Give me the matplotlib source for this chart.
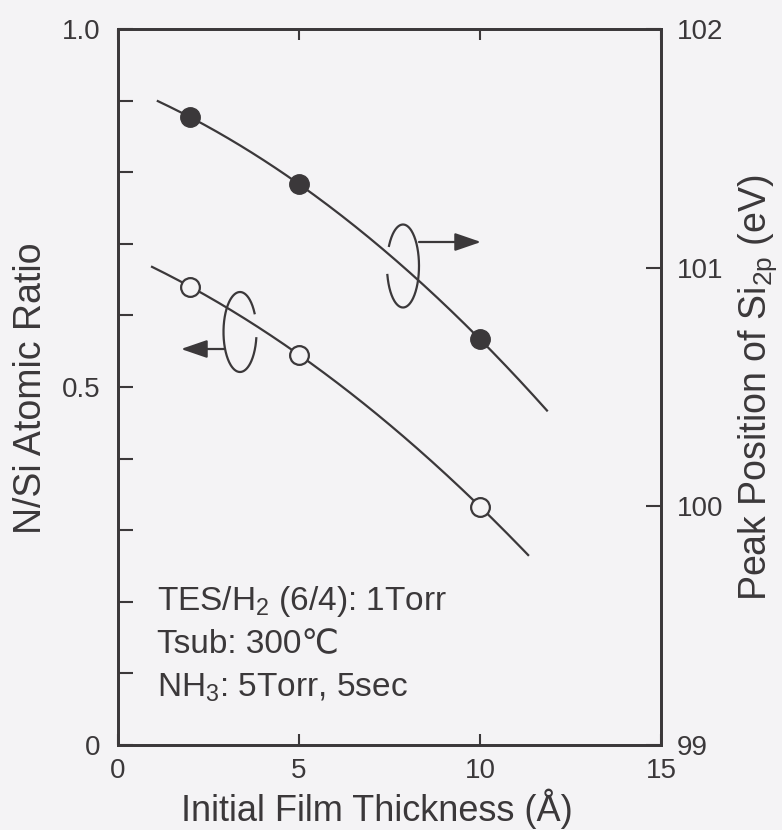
import numpy as np
import matplotlib
matplotlib.use("Agg")
import matplotlib.pyplot as plt
from matplotlib.ticker import FixedLocator, FixedFormatter

# ---- data -------------------------------------------------------------
thickness = [2.0, 5.0, 10.0]                 # initial film thickness (Å)
n_si_ratio = [0.64, 0.545, 0.333]            # N/Si atomic ratio (left axis)
si2p_peak = [101.63, 101.35, 100.70]         # Si2p peak position, eV (right axis)

ratio_fit_span = [0.94, 11.33]               # x extent of the guide curve (ratio)
peak_fit_span = [1.10, 11.85]                # x extent of the guide curve (peak)

x_ticks = [0, 5, 10, 15]
x_ticklabels = ["0", "5", "10", "15"]
left_ticks = [round(0.1 * i, 1) for i in range(11)]
left_ticklabels = ["0", "", "", "", "", "0.5", "", "", "", "", "1.0"]
right_ticks = [99, 100, 101, 102]
right_ticklabels = ["99", "100", "101", "102"]

conditions = ["TES/H$_2$ (6/4): 1Torr", "Tsub: 300\u2103", "NH$_3$: 5Torr, 5sec"]

# ---- style ------------------------------------------------------------
INK = "#3b383a"
BG = "#f4f3f5"
FAMILY = ["Liberation Sans", "DejaVu Sans"]

plt.rcParams["font.family"] = FAMILY
plt.rcParams["mathtext.fontset"] = "custom"
plt.rcParams["mathtext.rm"] = "Liberation Sans"
plt.rcParams["mathtext.it"] = "Liberation Sans"
plt.rcParams["mathtext.default"] = "regular"
plt.rcParams["text.color"] = INK

W, H = 782, 830
fig = plt.figure(figsize=(W / 100, H / 100), dpi=100, facecolor=BG)

# axes box in pixels: left 118, right 661, top 29, bottom 745
L, R, T, B = 118, 661, 29, 745
ax = fig.add_axes([L / W, (H - B) / H, (R - L) / W, (B - T) / H])
ax.set_facecolor(BG)
ax2 = ax.twinx()

ax.set_xlim(0, 15)
ax.set_ylim(0, 1.0)
ax2.set_ylim(99, 102)

for a in (ax, ax2):
    for s in a.spines.values():
        s.set_color(INK)
        s.set_linewidth(2.0)

ax.xaxis.set_major_locator(FixedLocator(x_ticks))
ax.xaxis.set_major_formatter(FixedFormatter(x_ticklabels))
ax.yaxis.set_major_locator(FixedLocator(left_ticks))
ax.yaxis.set_major_formatter(FixedFormatter(left_ticklabels))
ax2.yaxis.set_major_locator(FixedLocator(right_ticks))
ax2.yaxis.set_major_formatter(FixedFormatter(right_ticklabels))

ax.tick_params(axis="x", direction="in", length=8, width=1.5, color=INK,
               labelsize=20, labelcolor=INK, pad=9.5, top=True)
ax.tick_params(axis="y", direction="in", length=11, width=1.5, color=INK,
               labelsize=20, labelcolor=INK, pad=12.5)
ax2.tick_params(axis="y", direction="in", length=11, width=1.5, color=INK,
                labelsize=20, labelcolor=INK, pad=11.5)

# ---- guide curves (quadratic fit through the measured points) ---------
def guide(xs, ys, span):
    coef = np.polyfit(xs, ys, 2)
    xx = np.linspace(span[0], span[1], 200)
    return xx, np.polyval(coef, xx)

gx, gy = guide(thickness, n_si_ratio, ratio_fit_span)
ax.plot(gx, gy, color=INK, lw=1.6, zorder=2)
ax.plot(thickness, n_si_ratio, linestyle="none", marker="o", ms=13.5,
        mfc=BG, mec=INK, mew=1.6, zorder=3)

gx2, gy2 = guide(thickness, si2p_peak, peak_fit_span)
ax2.plot(gx2, gy2, color=INK, lw=1.6, zorder=2)
ax2.plot(thickness, si2p_peak, linestyle="none", marker="o", ms=14,
         mfc=INK, mec=INK, mew=1.0, zorder=3)

# ---- ring-and-arrow markers pointing to each axis ---------------------
def frac(px, py):
    return (px - L) / (R - L), (B - py) / (B - T)

def ring(cx, cy, a, b, t1, t2):
    t = np.radians(np.linspace(t1, t2, 200))
    px = cx + a * np.cos(t)
    py = cy - b * np.sin(t)
    fx, fy = frac(px, py)
    ax2.plot(fx, fy, color=INK, lw=1.6, transform=ax2.transAxes,
             clip_on=False, zorder=4)

def arrow(x0, y0, x1, y1):
    ax2.annotate("", xy=frac(x1, y1), xytext=frac(x0, y0),
                 xycoords="axes fraction", textcoords="axes fraction",
                 arrowprops=dict(arrowstyle="-|>,head_length=16,head_width=5.5",
                                 mutation_scale=1, color=INK, lw=1.6,
                                 shrinkA=0, shrinkB=0), zorder=4)

# ring around the ratio curve, arrow to the left axis
ring(240, 332, 16.5, 40, 28, 351)
arrow(224, 349, 181, 349)
# ring around the peak curve, arrow to the right axis
ring(403, 266, 16, 41.5, -167.5, 151)
arrow(419, 242, 481, 242)

# ---- labels -----------------------------------------------------------
fig.text(377 / W, (H - 821) / H, "Initial Film Thickness (\u00c5)",
         ha="center", va="baseline", fontsize=26, color=INK)
fig.text(31 / W, (H - 388) / H, "N/Si Atomic Ratio", rotation=90,
         ha="center", va="center", fontsize=27, color=INK)
fig.text(758 / W, (H - 388) / H, "Peak Position of Si$_{2p}$ (eV)", rotation=90,
         ha="center", va="center", fontsize=27, color=INK)

baselines = [610, 653, 697]
for line, yb in zip(conditions, baselines):
    fx, fy = frac(157, yb)
    ax2.text(fx, fy, line, transform=ax2.transAxes, ha="left", va="baseline",
             fontsize=24, color=INK)

fig.savefig("out.png", dpi=100, facecolor=BG)
